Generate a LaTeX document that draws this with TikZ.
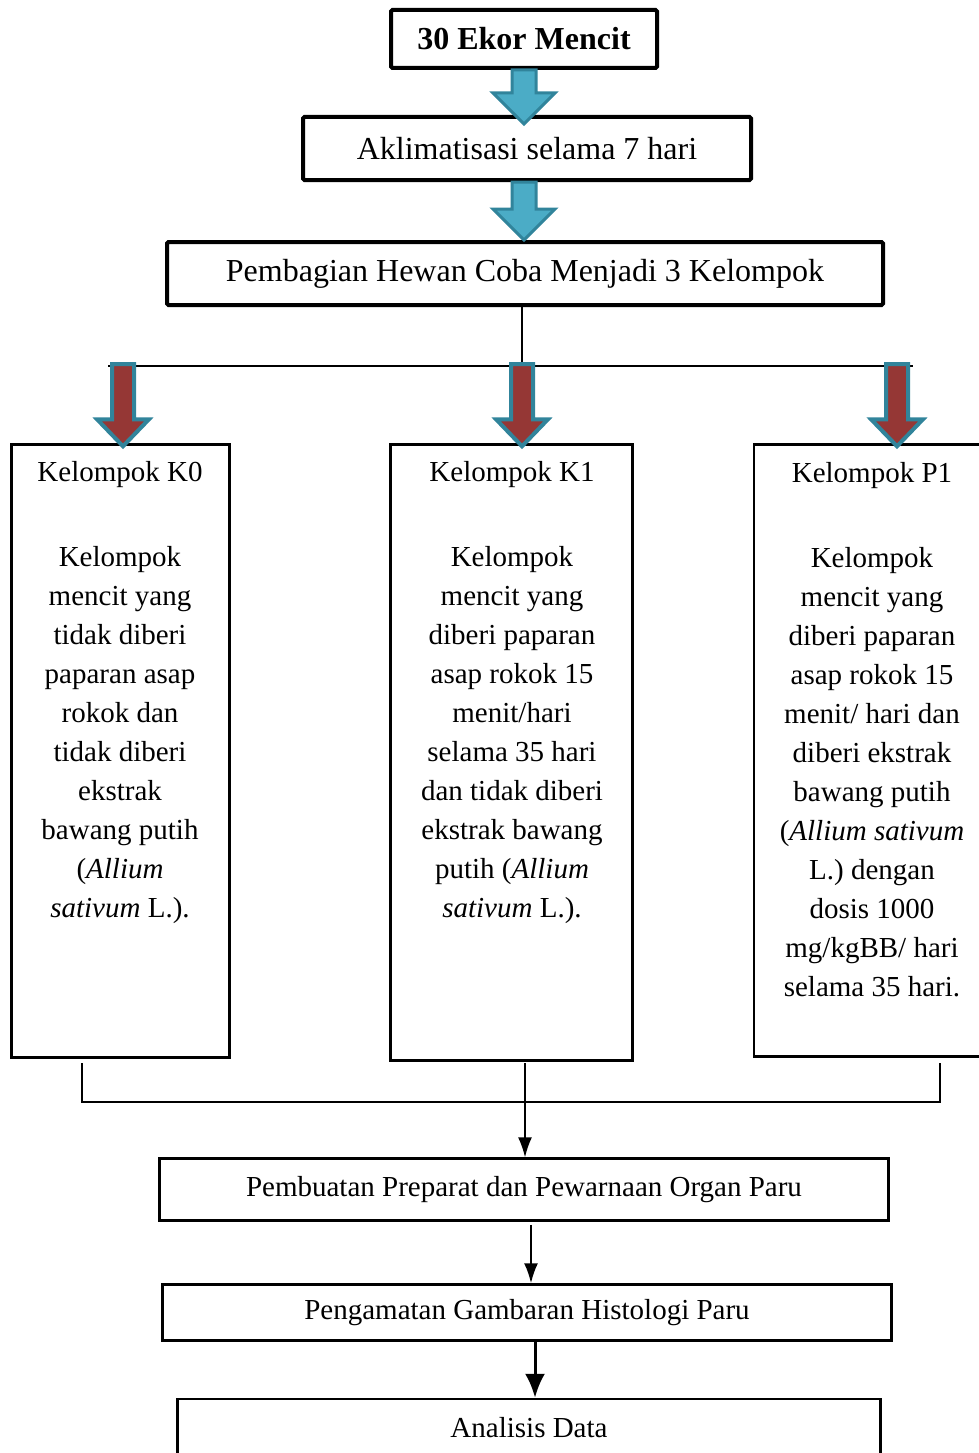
\documentclass[tikz,border=0pt]{standalone}
\usepackage{fontspec}
\setmainfont{Liberation Serif}
\usetikzlibrary{positioning,calc,arrows.meta}
\definecolor{blokbiru}{HTML}{4BACC6}
\definecolor{tepibiru}{HTML}{31849B}
\definecolor{blokmerah}{HTML}{953735}
\tikzset{
    blok/.style n args={3}{to path={let \p1=(\tikztostart), \p2=(\tikztotarget) in
      (\x1-#1,\y1) -- (\x1-#1,\y2+#3) -- (\x1-#2,\y2+#3) -- (\x1,\y2) -- (\x1+#2,\y2+#3) -- (\x1+#1,\y2+#3) -- (\x1+#1,\y1) -- cycle}},
}

\begin{document}
\begin{tikzpicture}[x=1pt,y=-1pt,
    kotak/.style={draw, line width=4pt, rounded corners=1.5pt, inner sep=0pt, font=\fontsize{32}{38}\selectfont},
    kotakkel/.style={draw, line width=2.5pt, inner sep=0pt},
    isikel/.style={align=center, anchor=north, inner sep=0pt, font=\fontsize{29}{39}\selectfont},
    langkah/.style={draw, line width=2.5pt, inner sep=0pt, font=\fontsize{29}{35}\selectfont},
    panahbiru/.style={fill=blokbiru, draw=tepibiru, line width=3pt},
    panahmerah/.style={fill=blokmerah, draw=tepibiru, line width=4pt},
    garis/.style={line width=2pt}]
  \useasboundingbox (0,0) rectangle (979,1453);

  \node[kotak, minimum width=266, minimum height=58] (ekor) at (524,39) {\textbf{30 Ekor Mencit}};
  \node[kotak, minimum width=448, minimum height=63] (akli) at (527,148.5) {Aklimatisasi selama 7 hari};
  \node[kotak, minimum width=716, minimum height=63] (bagi) at (525,273.5) {Pembagian Hewan Coba Menjadi 3 Kelompok};

  % KELOMPOK
  \node[kotakkel, minimum width=218, minimum height=613] (k0box) at (120.5,751) {};
  \node[kotakkel, minimum width=242, minimum height=616] (k1box) at (511.5,752.5) {};
  \node[kotakkel, minimum width=236, minimum height=612] (p1box) at (872,750.5) {};

  \node[isikel] (k0teks) at (120,461)
    {Kelompok K0\\[46pt]
     Kelompok\\ mencit yang\\ tidak diberi\\ paparan asap\\ rokok dan\\ tidak diberi\\ ekstrak\\ bawang putih\\ (\textit{Allium}\\ \textit{sativum} L.).};
  \node[isikel] (k1teks) at (512,461)
    {Kelompok K1\\[46pt]
     Kelompok\\ mencit yang\\ diberi paparan\\ asap rokok 15\\ menit/hari\\ selama 35 hari\\ dan tidak diberi\\ ekstrak bawang\\ putih (\textit{Allium}\\ \textit{sativum} L.).};
  \node[isikel] (p1teks) at (872,462)
    {Kelompok P1\\[46pt]
     Kelompok\\ mencit yang\\ diberi paparan\\ asap rokok 15\\ menit/ hari dan\\ diberi ekstrak\\ bawang putih\\ (\textit{Allium sativum}\\ L.) dengan\\ dosis 1000\\ mg/kgBB/ hari\\ selama 35 hari.};

  \node[langkah, minimum width=729, minimum height=62] (preparat) at (524,1189.5) {Pembuatan Preparat dan Pewarnaan Organ Paru};
  \node[langkah, minimum width=729, minimum height=56] (histologi) at (527,1312.5) {Pengamatan Gambaran Histologi Paru};
  \node[langkah, minimum width=703, minimum height=58] (analisis) at (529,1428) {Analisis Data};

  % PANAH ATAS
  \draw[panahbiru] (ekor.south) to[blok={12pt}{31pt}{31pt}] ($(ekor.south |- akli.north)+(0,9)$);
  \draw[panahbiru] (ekor.south |- akli.south) to[blok={12pt}{31pt}{31pt}] ($(ekor.south |- bagi.north)+(0,0)$);

  % PEMBAGIAN
  \coordinate (s0) at (123,366);
  \coordinate (s1) at (522,366);
  \coordinate (s2) at (897,366);
  \draw[garis] (s1 |- bagi.south) -- (s1);
  \draw[garis] ($(s0)+(-15,0)$) -- ($(s2)+(16,0)$);
  \foreach \s/\b in {s0/k0box,s1/k1box,s2/p1box}
    \draw[panahmerah] ($(\s)+(0,-2)$) to[blok={11pt}{26pt}{27pt}] ($(\s |- \b.north)+(0,3)$);

  % GABUNG
  \coordinate (j0) at (82,1063);
  \coordinate (j1) at (525,1063);
  \coordinate (j2) at (940,1063);
  \draw[line width=1.5pt] (j0) -- ++(0,39) -| (j2);
  \draw[line width=1.5pt, -{Latex[length=20pt,width=14pt]}] (j1) -- (j1 |- preparat.north);

  \coordinate (t1) at ($(preparat.south)+(7,3)$);
  \coordinate (t2) at ($(histologi.south)+(8,0)$);
  \draw[garis, -{Latex[length=20pt,width=14pt]}] (t1) -- (t1 |- histologi.north);
  \draw[line width=3pt, -{Latex[length=24pt,width=20pt]}] (t2) -- (t2 |- analisis.north);
\end{tikzpicture}
\end{document}
